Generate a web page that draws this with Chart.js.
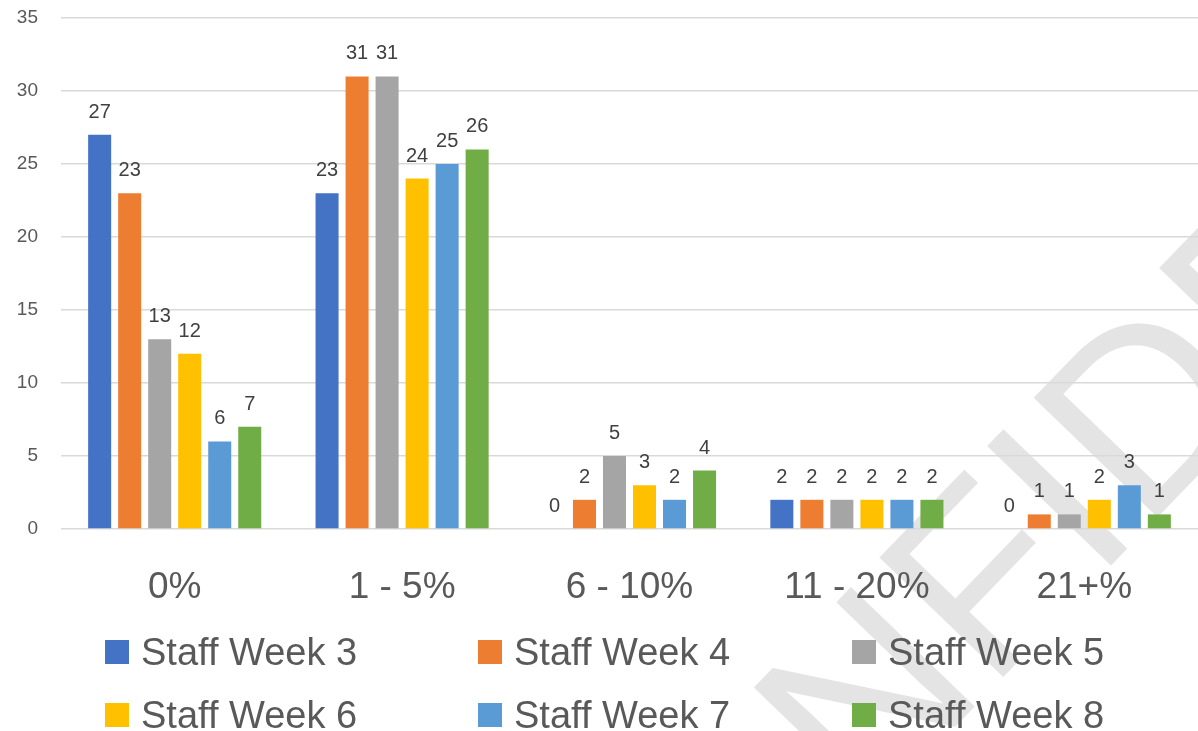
<!DOCTYPE html>
<html>
<head>
<meta charset="utf-8">
<script src="https://cdn.jsdelivr.net/npm/chart.js@4"></script>
<style>
  html, body { margin: 0; padding: 0; background: #fff; }
  #wrap { position: relative; width: 1198px; height: 731px; }
  #legend { position: absolute; left: 0; top: 621px; width: 1198px; font-family: "Liberation Sans", Arial, sans-serif; font-size: 38px; color: #595959; }
  .lg-item { position: absolute; display: flex; align-items: center; height: 62px; white-space: nowrap; }
  .lg-box { width: 24px; height: 24px; margin-right: 12px; }
</style>
</head>
<body>
<div id="wrap">
  <canvas id="staff-chart" width="1198" height="731"></canvas>
  <div id="legend"></div>
</div>
<script>
// Chart data
const categories = ['0%', '1 - 5%', '6 - 10%', '11 - 20%', '21+%'];
const seriesNames = ['Staff Week 3', 'Staff Week 4', 'Staff Week 5', 'Staff Week 6', 'Staff Week 7', 'Staff Week 8'];
const week3 = [27, 23, 0, 2, 0];
const week4 = [23, 31, 2, 2, 1];
const week5 = [13, 31, 5, 2, 1];
const week6 = [12, 24, 3, 2, 2];
const week7 = [6, 25, 2, 2, 3];
const week8 = [7, 26, 4, 2, 1];
const seriesColors = ['#4472C4', '#ED7D31', '#A5A5A5', '#FFC000', '#5B9BD5', '#70AD47'];
const yTicks = [0, 5, 10, 15, 20, 25, 30, 35];

const allSeries = [week3, week4, week5, week6, week7, week8];

Chart.defaults.font.family = '"Liberation Sans", Arial, sans-serif';

// "CONFIDENTIAL" watermark, behind everything
const watermark = {
  id: 'watermark',
  beforeDraw: function (chart) {
    const ctx = chart.ctx;
    ctx.save();
    ctx.translate(1095, 582);
    ctx.rotate(-46 * Math.PI / 180);
    ctx.font = '250px "Liberation Sans", Arial, sans-serif';
    ctx.fillStyle = '#e4e4e4';
    ctx.textBaseline = 'alphabetic';
    // anchor on the "I" so "NFID" lands where it is in the picture
    const before = ctx.measureText('CONF').width;
    ctx.fillText('CONFIDENTIAL', -before, 0);
    ctx.restore();
  }
};

// value labels above bars
const barValues = {
  id: 'barValues',
  afterDatasetsDraw: function (chart) {
    const ctx = chart.ctx;
    ctx.save();
    ctx.font = '20px "Liberation Sans", Arial, sans-serif';
    ctx.fillStyle = '#404040';
    ctx.textAlign = 'center';
    ctx.textBaseline = 'alphabetic';
    chart.data.datasets.forEach(function (ds, i) {
      const meta = chart.getDatasetMeta(i);
      meta.data.forEach(function (bar, j) {
        ctx.fillText(String(ds.data[j]), bar.x, bar.y - 17);
      });
    });
    ctx.restore();
  }
};

const datasets = seriesNames.map(function (name, i) {
  return {
    label: name,
    data: allSeries[i],
    backgroundColor: seriesColors[i],
    categoryPercentage: 0.792,
    barPercentage: 0.767
  };
});

var ctx = document.getElementById('staff-chart').getContext('2d');
var staffChart = new Chart(ctx, {
  type: 'bar',
  data: { labels: categories, datasets: datasets },
  plugins: [watermark, barValues],
  options: {
    responsive: false,
    animation: false,
    layout: { padding: { top: 18, right: 0, left: 0, bottom: 0 } },
    plugins: {
      legend: { display: false },
      tooltip: { enabled: false }
    },
    scales: {
      x: {
        grid: { display: false },
        border: { display: false },
        ticks: { color: '#595959', font: { size: 37 }, padding: 29 },
        afterFit: function (scale) { scale.height = 202; }
      },
      y: {
        min: 0,
        max: 35,
        afterBuildTicks: function (scale) {
          scale.ticks = yTicks.map(function (v) { return { value: v }; });
        },
        grid: { color: '#d9d9d9', lineWidth: 1.5, drawTicks: false },
        border: { display: false },
        ticks: { color: '#595959', font: { size: 19 }, padding: 23 },
        afterFit: function (scale) {
          scale.width = 61;
          // tick padding would otherwise push the plot top down
          scale.paddingTop = 0;
          scale.paddingBottom = 0;
        }
      }
    }
  }
});

// html legend, 3 per row
const legendEl = document.getElementById('legend');
const colX = [105, 478, 852];
seriesNames.forEach(function (name, i) {
  const item = document.createElement('div');
  item.className = 'lg-item';
  item.style.left = colX[i % 3] + 'px';
  item.style.top = (Math.floor(i / 3) * 63) + 'px';
  item.innerHTML = '<span class="lg-box" style="background:' + seriesColors[i] + '"></span>' + name;
  legendEl.appendChild(item);
});
</script>
</body>
</html>
